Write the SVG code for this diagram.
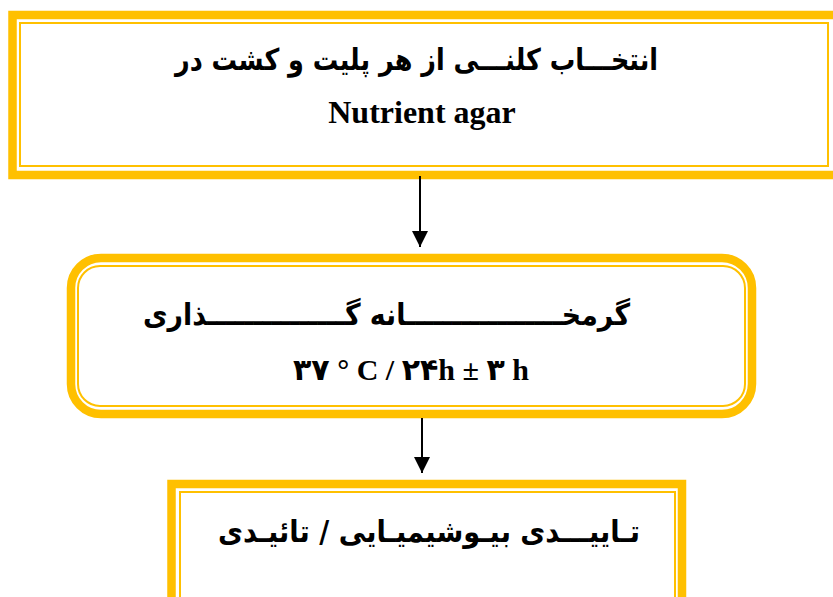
<svg xmlns="http://www.w3.org/2000/svg" width="833" height="597" viewBox="0 0 833 597">
<defs>
<style>
.thick{fill:none;stroke:#FFC000;stroke-width:8.5}
.thin{fill:none;stroke:#FFC000;stroke-width:2}
.fa{font-family:"DejaVu Sans",sans-serif;font-weight:bold;font-size:30px;fill:#000;text-anchor:middle}
.lat{font-family:"Liberation Serif","DejaVu Sans",serif;font-weight:bold;font-size:32px;fill:#000;text-anchor:middle}
.conn{stroke:#000;stroke-width:2;fill:none}
</style>
<marker id="ah" viewBox="0 0 10 10" refX="10" refY="5" markerWidth="8" markerHeight="8" markerUnits="strokeWidth" orient="auto">
<path d="M0,0 L10,5 L0,10 Z" fill="#000"/>
</marker>
</defs>
<rect width="833" height="597" fill="#fff"/>
<g id="node1">
<rect class="thick" x="12.5" y="15" width="830" height="160"/>
<rect class="thin" x="20" y="23" width="808" height="143"/>
<text class="fa" x="416.5" y="70" direction="rtl" textLength="483" lengthAdjust="spacingAndGlyphs">انتخـــاب کلنـــی از هر پلیت و کشت در</text>
<text class="lat" x="422" y="123">Nutrient agar</text>
</g>
<g id="node2">
<rect class="thick" x="71" y="258" width="681" height="156" rx="30"/>
<rect class="thin" x="78" y="266" width="667" height="140" rx="22"/>
<text class="fa" x="386.5" y="325" direction="rtl" textLength="487" lengthAdjust="spacingAndGlyphs">گرمخـــــــــــــــــانه گـــــــــــــــذاری</text>
<text class="lat" x="411" y="380" direction="ltr" style="font-size:30px">۳۷ ° C / ۲۴h ± ۳ h</text>
</g>
<g id="node3">
<rect class="thick" x="171.5" y="484" width="510.5" height="130"/>
<rect class="thin" x="180" y="492" width="495" height="120"/>
<text class="fa" x="429" y="542" direction="rtl" textLength="422" lengthAdjust="spacingAndGlyphs">تـاییـــدی بیـوشیمیـایی / تائیـدی</text>
</g>
<g id="connectors">
<line class="conn" x1="420" y1="176" x2="420" y2="247" marker-end="url(#ah)"/>
<line class="conn" x1="422" y1="418" x2="422" y2="473" marker-end="url(#ah)"/>
</g>
</svg>
